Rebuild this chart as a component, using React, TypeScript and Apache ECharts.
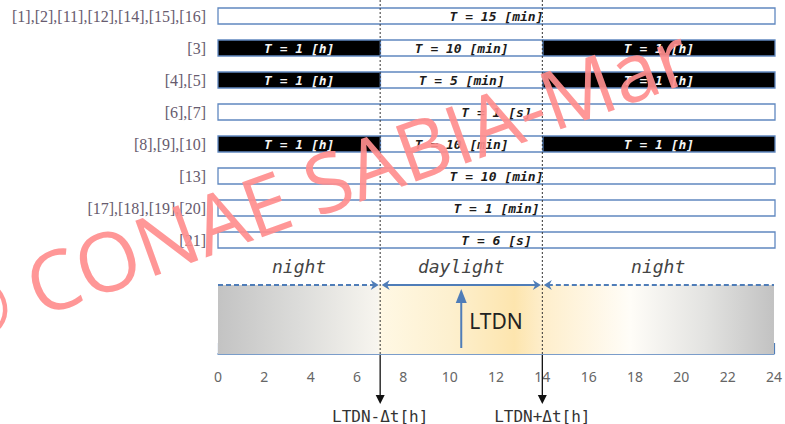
import React, { useEffect, useRef } from 'react';
import * as echarts from 'echarts';

// ---- data ----
const rowLabels = [
  '[1],[2],[11],[12],[14],[15],[16]',
  '[3]',
  '[4],[5]',
  '[6],[7]',
  '[8],[9],[10]',
  '[13]',
  '[17],[18],[19],[20]',
  '[21]',
];
const segRow = [0, 1, 1, 1, 2, 2, 2, 3, 4, 4, 4, 5, 6, 7];
const segStart = [0, 0, 7, 14, 0, 7, 14, 0, 0, 7, 14, 0, 0, 0];
const segEnd = [24, 7, 14, 24, 7, 14, 24, 24, 7, 14, 24, 24, 24, 24];
const segDark = [0, 1, 0, 1, 1, 0, 1, 0, 1, 0, 1, 0, 0, 0];
const segText = [
  'T = 15 [min]',
  'T = 1 [h]', 'T = 10 [min]', 'T = 1 [h]',
  'T = 1 [h]', 'T = 5 [min]', 'T = 1 [h]',
  'T = 1 [s]',
  'T = 1 [h]', 'T = 10 [min]', 'T = 1 [h]',
  'T = 10 [min]',
  'T = 1 [min]',
  'T = 6 [s]',
];

const hourLabels = ['0', '2', '4', '6', '8', '10', '12', '14', '16', '18', '20', '22', '24'];
const boundaryHours = [7, 14];
const boundaryLabels = ['LTDN-\u0394t[h]', 'LTDN+\u0394t[h]'];
const spanStart = [0, 7, 14];
const spanEnd = [7, 14, 24];
const spanLabels = ['night', 'daylight', 'night'];
const spanDashed = [1, 0, 1];
const spanArrowStart = [0, 1, 1];
const spanArrowEnd = [1, 1, 0];
const ltdnHour = 10.5;
const gradientHours = [0, 3.5, 6.9, 7.0, 10, 12.8, 14, 17.8, 21, 24];
const gradientColors = ['#c3c3c3', '#dcdcda', '#f7f5ef', '#fff8e4', '#fdf0cf', '#fde5ae', '#feeecb', '#fffdf8', '#e3e3e1', '#c2c2c2'];

const BLUE = '#4f7db8';

export default function App() {
  const ref = useRef<HTMLDivElement>(null);
  useEffect(() => {
    if (!ref.current) return;
    const chart = echarts.init(ref.current, undefined, { renderer: 'svg' });

    const segData = segRow.map((r, i) => [segStart[i], segEnd[i], r, i]);
    const spanData = spanStart.map((s, i) => [s, spanEnd[i], i]);
    const boundData = boundaryHours.map((h, i) => [h, i]);

    const option: any = {
      animation: false,
      backgroundColor: '#ffffff',
      grid: [
        { left: 218, right: 10, top: -1.6, height: 257.6 },
        { left: 218, right: 10, top: 285, height: 69 },
      ],
      xAxis: [
        { gridIndex: 0, type: 'value', min: 0, max: 24, show: false },
        {
          gridIndex: 1, type: 'value', min: 0, max: 24, interval: 1,
          axisLine: { show: true, lineStyle: { color: BLUE, width: 1.5 } },
          axisTick: { show: true, inside: true, length: 11, lineStyle: { color: BLUE, width: 1.2 } },
          splitLine: { show: false },
          axisLabel: {
            color: '#666666', fontSize: 14, fontFamily: 'Noto Sans', margin: 15,
            formatter: (v: number) => (hourLabels.includes(String(v)) ? String(v) : ''),
          },
        },
      ],
      yAxis: [
        {
          gridIndex: 0, type: 'category', inverse: true, data: rowLabels,
          axisLine: { show: false }, axisTick: { show: false }, splitLine: { show: false },
          axisLabel: { color: '#675b6e', fontSize: 16, fontFamily: 'Liberation Serif', margin: 12 },
        },
        { gridIndex: 1, type: 'value', min: 0, max: 1, show: false },
      ],
      series: [
        {
          type: 'custom', name: 'segments', xAxisIndex: 0, yAxisIndex: 0,
          encode: { x: [0, 1], y: 2 },
          data: segData,
          renderItem: (params: any, api: any) => {
            const i = api.value(3);
            const a = api.coord([api.value(0), api.value(2)]);
            const b = api.coord([api.value(1), api.value(2)]);
            const h = api.size([0, 1])[1] * 0.5;
            const dark = segDark[i] === 1;
            return {
              type: 'group',
              children: [
                {
                  type: 'rect',
                  shape: { x: a[0], y: a[1] - h / 2, width: b[0] - a[0], height: h },
                  style: { fill: dark ? '#000000' : '#ffffff', stroke: '#6088c0', lineWidth: 1.3 },
                },
                {
                  type: 'text', x: (a[0] + b[0]) / 2, y: a[1] + 0.5,
                  style: {
                    text: segText[i], fill: dark ? '#f4f4f4' : '#1c1c1c',
                    font: 'italic bold 13px "DejaVu Sans Mono"', align: 'center', verticalAlign: 'middle',
                  },
                },
              ],
            };
          },
        },
        {
          type: 'custom', name: 'band', xAxisIndex: 1, yAxisIndex: 1,
          data: [[0, 24]],
          encode: { x: [0, 1] },
          renderItem: (params: any, api: any) => {
            const a = api.coord([api.value(0), 1]);
            const b = api.coord([api.value(1), 0]);
            const stops = gradientHours.map((h, k) => ({ offset: h / 24, color: gradientColors[k] }));
            return {
              type: 'rect',
              shape: { x: a[0], y: a[1], width: b[0] - a[0], height: b[1] - a[1] },
              style: { fill: new echarts.graphic.LinearGradient(0, 0, 1, 0, stops) },
            };
          },
        },
        {
          type: 'custom', name: 'spans', xAxisIndex: 1, yAxisIndex: 1,
          data: spanData,
          encode: { x: [0, 1] },
          renderItem: (params: any, api: any) => {
            const i = api.value(2);
            const a = api.coord([api.value(0), 1]);
            const b = api.coord([api.value(1), 1]);
            const y = a[1];
            const x0 = a[0] + (spanArrowStart[i] ? 1.5 : 0);
            const x1 = b[0] - (spanArrowEnd[i] ? 1.5 : 0);
            const children: any[] = [
              {
                type: 'line',
                shape: { x1: x0 + (spanArrowStart[i] ? 4 : 0), y1: y, x2: x1 - (spanArrowEnd[i] ? 4 : 0), y2: y },
                style: { stroke: BLUE, lineWidth: 2, lineDash: spanDashed[i] ? [5, 3] : null },
              },
              {
                type: 'text', x: (a[0] + b[0]) / 2, y: y - 19,
                style: {
                  text: spanLabels[i], fill: '#444444', font: 'italic 18px "DejaVu Sans Mono"',
                  align: 'center', verticalAlign: 'middle',
                },
              },
            ];
            if (spanArrowStart[i]) {
              children.push({
                type: 'polygon',
                shape: { points: [[x0, y], [x0 + 8, y - 5], [x0 + 5.5, y], [x0 + 8, y + 5]] },
                style: { fill: BLUE },
              });
            }
            if (spanArrowEnd[i]) {
              children.push({
                type: 'polygon',
                shape: { points: [[x1, y], [x1 - 8, y - 5], [x1 - 5.5, y], [x1 - 8, y + 5]] },
                style: { fill: BLUE },
              });
            }
            return { type: 'group', children };
          },
        },
        {
          type: 'custom', name: 'boundaries', xAxisIndex: 1, yAxisIndex: 1,
          data: boundData,
          encode: { x: 0 },
          renderItem: (params: any, api: any) => {
            const i = api.value(1);
            const p = api.coord([api.value(0), 0]);
            const x = p[0];
            const y = p[1];
            return {
              type: 'group',
              children: [
                {
                  type: 'line', shape: { x1: x, y1: 0, x2: x, y2: y },
                  style: { stroke: '#333333', lineWidth: 1, lineDash: [2, 2] },
                },
                {
                  type: 'line', shape: { x1: x, y1: y + 1, x2: x, y2: y + 43 },
                  style: { stroke: '#111111', lineWidth: 1.3 },
                },
                {
                  type: 'polygon', shape: { points: [[x - 4.5, y + 41], [x + 4.5, y + 41], [x, y + 50]] },
                  style: { fill: '#111111' },
                },
                {
                  type: 'text', x, y: y + 62,
                  style: {
                    text: boundaryLabels[i], fill: '#333333', font: '16px "DejaVu Sans Mono"',
                    align: 'center', verticalAlign: 'middle',
                  },
                },
              ],
            };
          },
        },
        {
          type: 'custom', name: 'ltdn', xAxisIndex: 1, yAxisIndex: 1,
          data: [[ltdnHour]],
          encode: { x: 0 },
          renderItem: (params: any, api: any) => {
            const p = api.coord([api.value(0), 0]);
            const x = p[0];
            const y = p[1];
            return {
              type: 'group',
              children: [
                {
                  type: 'line', shape: { x1: x, y1: y - 6, x2: x, y2: y - 52 },
                  style: { stroke: BLUE, lineWidth: 2 },
                },
                {
                  type: 'polygon', shape: { points: [[x, y - 65], [x - 5.5, y - 51], [x + 5.5, y - 51]] },
                  style: { fill: BLUE },
                },
                {
                  type: 'text', x: x + 8, y: y - 33,
                  style: { text: 'LTDN', fill: '#222222', font: '21px "Noto Sans"', align: 'left', verticalAlign: 'middle' },
                },
              ],
            };
          },
        },
      ],
      graphic: [
        {
          type: 'text', x: 315, y: 184, rotation: 0.347, z: 100,
          style: {
            text: '\u00a9 CONAE SABIA-Mar', font: '82px "Open Sans"', fill: '#ff8e8e', opacity: 0.92,
            align: 'center', verticalAlign: 'middle',
          },
        },
      ],
    };
    chart.setOption(option);
    return () => chart.dispose();
  }, []);
  return <div ref={ref} style={{ position: 'fixed', left: 0, top: 0, width: 785, height: 424 }} />;
}
